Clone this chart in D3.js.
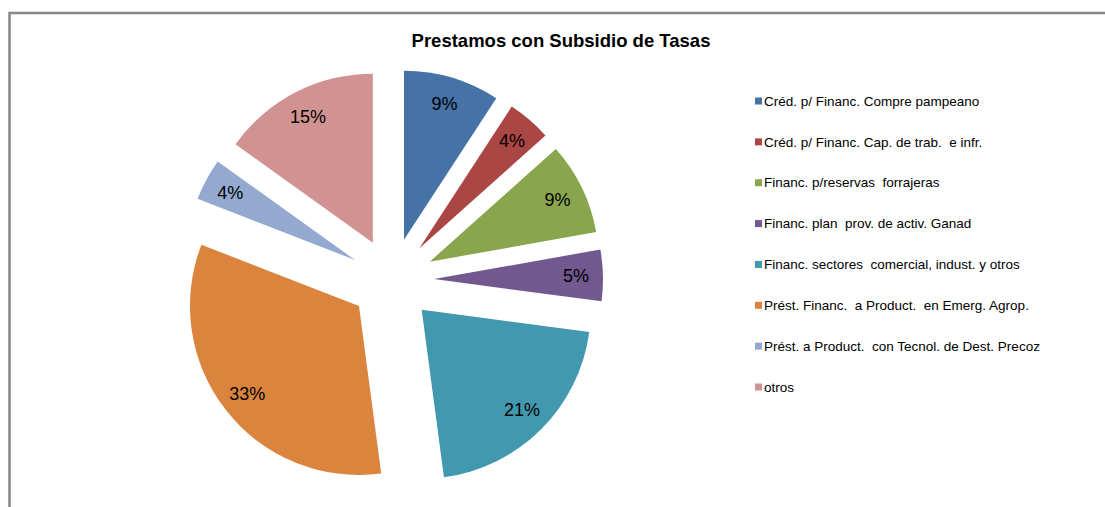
<!DOCTYPE html>
<html>
<head>
<meta charset="utf-8">
<script src="https://cdn.jsdelivr.net/npm/d3@7"></script>
<style>
  html, body { margin: 0; padding: 0; background: #fff; }
  svg { display: block; font-family: "Liberation Sans", Arial, sans-serif; }
</style>
</head>
<body>
<div id="chart"></div>
<script>
// datos del grafico
const categorias = [
  "Créd. p/ Financ. Compre pampeano",
  "Créd. p/ Financ. Cap. de trab.  e infr.",
  "Financ. p/reservas  forrajeras",
  "Financ. plan  prov. de activ. Ganad",
  "Financ. sectores  comercial, indust. y otros",
  "Prést. Financ.  a Product.  en Emerg. Agrop.",
  "Prést. a Product.  con Tecnol. de Dest. Precoz",
  "otros"
];
const valores = [9.2, 4.2, 8.8, 4.9, 20.8, 33.0, 4.0, 15.1];
const colores = ["#4572A7", "#AA4643", "#89A54E", "#71588F", "#4198AF", "#DB843D", "#93A9CF", "#D19392"];
const titulo = "Prestamos con Subsidio de Tasas";

const width = 1105, height = 507;
const cx = 392, cy = 280;   // centro de la torta
const radio = 169;
const explosion = 42;       // separacion de cada porcion
const radioEtiqueta = 142;

const svg = d3.select("#chart").append("svg")
  .attr("width", width)
  .attr("height", height);

// marco del area del grafico (sale por derecha y abajo)
svg.append("rect")
  .attr("x", 9.5).attr("y", 13)
  .attr("width", 1300).attr("height", 700)
  .attr("fill", "none")
  .attr("stroke", "#878787")
  .attr("stroke-width", 2.5);

svg.append("text")
  .attr("x", 561).attr("y", 47)
  .attr("text-anchor", "middle")
  .style("font-size", "18.5px")
  .style("font-weight", "bold")
  .attr("fill", "#000")
  .text(titulo);

const total = d3.sum(valores);
const pie = d3.pie().sort(null).value(d => d);
const arcos = pie(valores);
const arc = d3.arc().innerRadius(0).outerRadius(radio);

const g = svg.append("g").attr("transform", `translate(${cx},${cy})`);

const porcion = g.selectAll("g.porcion")
  .data(arcos)
  .join("g")
  .attr("class", "porcion")
  .attr("transform", d => {
    const m = (d.startAngle + d.endAngle) / 2;
    return `translate(${explosion * Math.sin(m)},${-explosion * Math.cos(m)})`;
  });

porcion.append("path")
  .attr("d", arc)
  .attr("fill", (d, i) => colores[i]);

porcion.append("text")
  .attr("x", d => radioEtiqueta * Math.sin((d.startAngle + d.endAngle) / 2))
  .attr("y", d => -radioEtiqueta * Math.cos((d.startAngle + d.endAngle) / 2))
  .attr("text-anchor", "middle")
  .attr("dy", "0.35em")
  .style("font-size", "18px")
  .attr("fill", "#000")
  .text(d => Math.round(d.value / total * 100) + "%");

// leyenda
const leyenda = svg.append("g").attr("transform", "translate(755,0)");
const filaY = d3.scalePoint().domain(d3.range(categorias.length)).range([101, 387]);

const item = leyenda.selectAll("g")
  .data(categorias)
  .join("g")
  .attr("transform", (d, i) => `translate(0,${filaY(i)})`);

item.append("rect")
  .attr("x", 0).attr("y", -3.5)
  .attr("width", 7).attr("height", 7)
  .attr("fill", (d, i) => colores[i]);

item.append("text")
  .attr("x", 9)
  .attr("dy", "0.35em")
  .style("font-size", "13.5px")
  .style("white-space", "pre")
  .attr("fill", "#000")
  .text(d => d);
</script>
</body>
</html>
